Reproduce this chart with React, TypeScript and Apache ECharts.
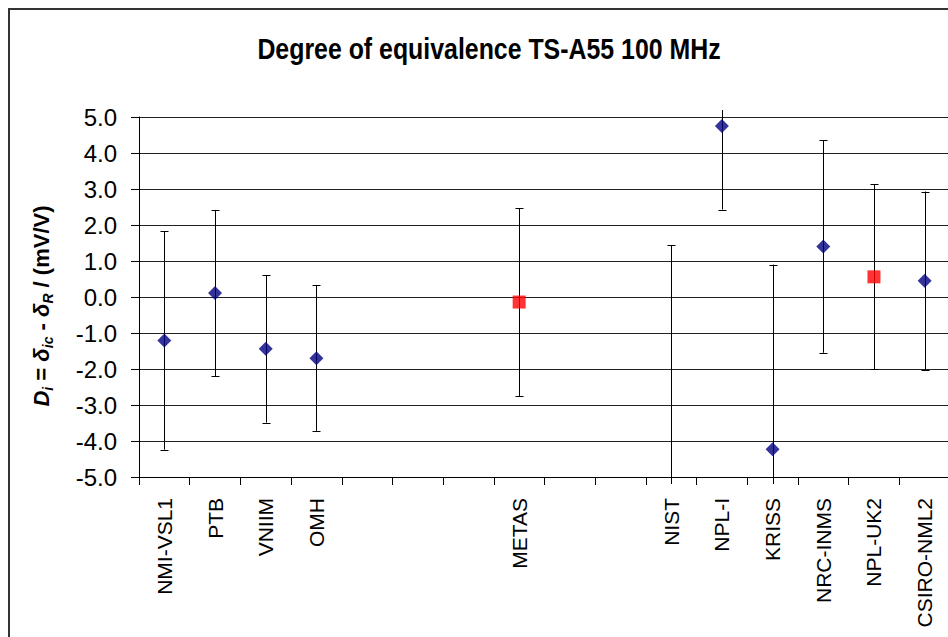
import React, { useEffect, useRef } from "react";
import * as echarts from "echarts";

// ---- data ----
const categories: string[] = [
  "NMI-VSL1", "PTB", "VNIIM", "OMH", "", "", "", "METAS", "", "",
  "NIST", "NPL-I", "KRISS", "NRC-INMS", "NPL-UK2", "CSIRO-NML2",
];
const values: (number | null)[] = [
  -1.21, 0.11, -1.44, -1.7, null, null, null, -0.14, null, null,
  -6.0, 4.75, -4.23, 1.4, 0.56, 0.45,
];
const uncertainties: (number | null)[] = [
  3.03, 2.31, 2.05, 2.02, null, null, null, 2.61, null, null,
  7.44, 2.32, 5.13, 2.95, 2.57, 2.48,
];
const squareLabs: string[] = ["METAS", "NPL-UK2"];
const yMin = -5;
const yMax = 5;
const yStep = 1;
const titleText = "Degree of equivalence TS-A55 100 MHz";

const SANS = "'Liberation Sans', Arial, sans-serif";

export default function App() {
  const ref = useRef<HTMLDivElement>(null);

  useEffect(() => {
    if (!ref.current) return;
    const chart = echarts.init(ref.current, undefined, { renderer: "svg" });

    const diamondData: number[][] = [];
    const squareData: number[][] = [];
    const barData: number[][] = [];
    categories.forEach((c, i) => {
      const v = values[i];
      const u = uncertainties[i];
      if (v == null) return;
      if (squareLabs.includes(c)) squareData.push([i, v]);
      else diamondData.push([i, v]);
      if (u != null) barData.push([i, v - u, v + u]);
    });

    const option: any = {
      animation: false,
      backgroundColor: "#ffffff",
      graphic: [
        {
          type: "rect",
          shape: { x: 9, y: 9, width: 980, height: 680 },
          style: { fill: "none", stroke: "#333333", lineWidth: 2 },
          silent: true,
          z: -10,
        },
        {
          type: "text",
          x: 489,
          y: 49,
          scaleX: 0.83,
          style: {
            text: titleText,
            fontFamily: SANS,
            fontSize: 30,
            fontWeight: "bold",
            fill: "#000",
            textAlign: "center",
            textVerticalAlign: "middle",
          },
        },
      ],
      grid: {
        left: 139,
        top: 117,
        width: 811,
        height: 360,
        containLabel: false,
        outerBoundsMode: "none",
      },
      xAxis: {
        type: "category",
        data: categories,
        boundaryGap: true,
        axisLine: { show: true, onZero: false, lineStyle: { color: "#000", width: 1 } },
        axisTick: { show: true, interval: 0, length: 8, inside: false, lineStyle: { color: "#000" } },
        axisLabel: {
          interval: 0,
          rotate: 90,
          margin: 21,
          fontFamily: SANS,
          fontSize: 21,
          color: "#000",
        },
        splitLine: { show: false },
      },
      yAxis: {
        type: "value",
        min: yMin,
        max: yMax,
        interval: yStep,
        axisLine: { show: true, lineStyle: { color: "#000", width: 1 } },
        axisTick: { show: true, length: 8, inside: false, lineStyle: { color: "#000" } },
        axisLabel: {
          margin: 22,
          fontFamily: SANS,
          fontSize: 24,
          color: "#000",
          formatter: (v: number) => v.toFixed(1),
        },
        splitLine: { show: true, lineStyle: { color: "#222", width: 1 } },
        name: "{d|D}{s|i}{n| = }{d|δ}{s|ic}{n| - }{d|δ}{s|R}{u| / (mV/V)}",
        nameLocation: "middle",
        nameRotate: 90,
        nameGap: 84,
        nameTextStyle: {
          fontFamily: SANS,
          color: "#000",
          padding: [0, 18, 0, 0],
          rich: {
            d: { fontSize: 22, fontWeight: "bold", fontStyle: "italic", fontFamily: SANS, lineHeight: 28, verticalAlign: "middle" },
            s: { fontSize: 14, fontWeight: "bold", fontStyle: "italic", fontFamily: SANS, lineHeight: 28, verticalAlign: "bottom" },
            n: { fontSize: 22, fontWeight: "bold", fontFamily: SANS, lineHeight: 28, verticalAlign: "middle" },
            u: { fontSize: 22, fontWeight: "bold", fontFamily: SANS, lineHeight: 28, verticalAlign: "middle" },
          },
        },
      },
      series: [
        {
          type: "custom",
          name: "U",
          clip: false,
          z: 1,
          data: barData,
          encode: { x: 0, y: [1, 2] },
          renderItem: (params: any, api: any) => {
            const x = api.value(0);
            const lo = api.value(1);
            const hi = api.value(2);
            const pHi = api.coord([x, hi]);
            const pLo = api.coord([x, lo]);
            const cs = params.coordSys;
            const top = cs.y - 7;
            const bottom = cs.y + cs.height + 7;
            const cx = Math.round(pHi[0]) + 0.5;
            const yTop = Math.max(pHi[1], top);
            const yBot = Math.min(pLo[1], bottom);
            const st = { stroke: "#000", lineWidth: 1 };
            const children: any[] = [
              { type: "line", shape: { x1: cx, y1: yTop, x2: cx, y2: yBot }, style: st },
            ];
            if (pHi[1] >= top) {
              const y = Math.round(pHi[1]) + 0.5;
              children.push({ type: "line", shape: { x1: cx - 4, y1: y, x2: cx + 4, y2: y }, style: st });
            }
            if (pLo[1] <= bottom) {
              const y = Math.round(pLo[1]) + 0.5;
              children.push({ type: "line", shape: { x1: cx - 4, y1: y, x2: cx + 4, y2: y }, style: st });
            }
            return { type: "group", children };
          },
        },
        {
          type: "scatter",
          name: "Di",
          data: diamondData,
          symbol: "diamond",
          symbolSize: 14,
          itemStyle: { color: "#000080" },
          z: 3,
          clip: true,
        },
        {
          type: "scatter",
          name: "Di (linking)",
          data: squareData,
          symbol: "rect",
          symbolSize: 13,
          itemStyle: { color: "#ff0000" },
          z: 3,
          clip: true,
        },
      ],
    };

    chart.setOption(option);
    return () => chart.dispose();
  }, []);

  return (
    <div
      ref={ref}
      style={{ position: "fixed", left: 0, top: 0, width: 948, height: 637, background: "#fff" }}
    />
  );
}
